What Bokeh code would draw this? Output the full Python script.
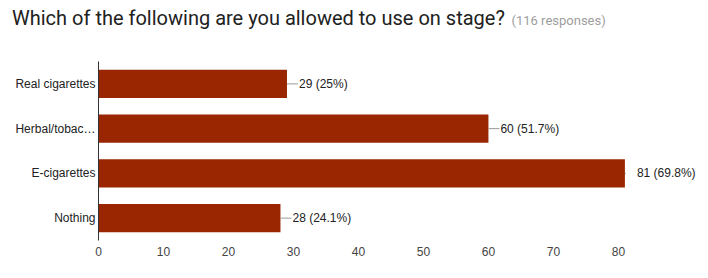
from bokeh.plotting import figure
from bokeh.models import ColumnDataSource, FactorRange, Div
from bokeh.layouts import column
from bokeh.core.properties import value
from bokeh.embed import file_html
from bokeh.resources import INLINE

title_text = "Which of the following are you allowed to use on stage?"
responses_text = "(116 responses)"
categories = ["Real cigarettes", "Herbal/tobac\u2026", "E-cigarettes", "Nothing"]
counts = [29, 60, 81, 28]
percents = ["25%", "51.7%", "69.8%", "24.1%"]
x_ticks = [0, 10, 20, 30, 40, 50, 60, 70, 80]

labels = [f"{c} ({pc})" for c, pc in zip(counts, percents)]
maxc = max(counts)
leader = [1 if c == maxc else 11 for c in counts]

src = ColumnDataSource(dict(cat=categories, cnt=counts, lab=labels, lead=leader))

p = figure(width=708, height=217, output_backend="svg", toolbar_location=None,
           y_range=FactorRange(factors=list(reversed(categories))),
           x_range=(0, 93.4),
           min_border_left=98, min_border_right=3, min_border_top=0, min_border_bottom=38,
           margin=0)
p.outline_line_color = None
p.background_fill_color = "white"
p.border_fill_color = "white"
p.grid.visible = False

p.hbar(y="cat", right="cnt", left=0, height=0.63, source=src,
       fill_color="#992600", line_color=None)
p.ray(x="cnt", y="cat", length="lead", length_units="screen", angle=0,
      source=src, line_color="#999999", line_width=1)
p.text(x="cnt", y="cat", text="lab", source=src, x_offset=12,
       text_font=value("Liberation Sans"), text_font_size="12px",
       text_color="#222222", text_baseline="middle", text_align="left")

ya = p.yaxis[0]
ya.axis_line_color = "#333333"
ya.major_tick_line_color = None
ya.minor_tick_line_color = None
ya.major_tick_out = 0
ya.major_tick_in = 0
ya.major_label_standoff = 3
ya.major_label_text_font = "Liberation Sans"
ya.major_label_text_font_size = "12px"
ya.major_label_text_color = "#222222"

xa = p.xaxis[0]
xa.axis_line_color = None
xa.major_tick_line_color = None
xa.minor_tick_line_color = None
xa.major_tick_out = 0
xa.major_tick_in = 0
xa.ticker = x_ticks
xa.major_label_standoff = 6
xa.major_label_text_font = "Liberation Sans"
xa.major_label_text_font_size = "12px"
xa.major_label_text_color = "#444444"

head = Div(
    text=(f'<span style="font-family:Roboto;font-size:20px;color:#212121">{title_text}</span>'
          f'&nbsp;&nbsp;<span style="font-family:Roboto;font-size:13px;color:#9e9e9e">{responses_text}</span>'),
    width=708, height=61, margin=0,
    styles={"padding-left": "12px", "padding-top": "6px", "line-height": "24px",
            "white-space": "nowrap", "box-sizing": "border-box"})

layout = column(head, p, margin=0, spacing=0)
open("out.html", "w").write(file_html(layout, INLINE))
